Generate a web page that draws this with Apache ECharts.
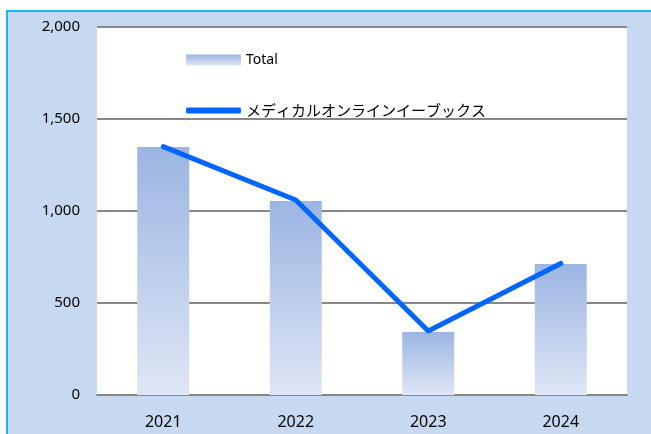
<!DOCTYPE html>
<html>
<head>
<meta charset="utf-8">
<script src="https://cdn.jsdelivr.net/npm/echarts@6/dist/echarts.min.js"></script>
<style>
  html, body { margin: 0; padding: 0; background: #fff; }
  #chart { width: 651px; height: 434px; }
</style>
</head>
<body>
<div id="chart"></div>
<script>
// 年次データ
const years = ['2021', '2022', '2023', '2024'];
const totalValues = [1348, 1054, 342, 712];
const ebookValues = [1350, 1060, 348, 715];
const lineName = 'メディカルオンラインイーブックス';

const chart = echarts.init(document.getElementById('chart'));

const barFill = {
    type: 'linear', x: 0, y: 0, x2: 0, y2: 1,
    colorStops: [
        { offset: 0, color: '#9bb5e3' },
        { offset: 1, color: '#dfe6f5' }
    ]
};

chart.setOption({
    animation: false,
    textStyle: { fontFamily: '"Noto Sans", "Noto Sans CJK JP", sans-serif' },
    graphic: [{
        type: 'rect',
        z: -10,
        shape: { x: 7, y: 11, width: 700, height: 500 },
        style: { fill: '#c6d9f1', stroke: '#1cb3ee', lineWidth: 2 }
    }],
    grid: {
        left: 97, right: 24, top: 27, bottom: 39,
        show: true, backgroundColor: '#ffffff', borderWidth: 0
    },
    legend: [{
        data: [{ name: 'Total', icon: 'rect' }],
        left: 181, top: 48,
        itemWidth: 55, itemHeight: 11, itemGap: 4,
        textStyle: { fontSize: 14, color: '#000' }
    }, {
        data: [{ name: lineName, icon: 'roundRect' }],
        left: 181, top: 98,
        itemWidth: 55, itemHeight: 6, itemGap: 4,
        textStyle: { fontSize: 15, color: '#000', fontFamily: '"Noto Sans CJK JP", sans-serif' }
    }],
    xAxis: {
        type: 'category',
        data: years,
        axisLine: { lineStyle: { color: '#888', width: 2 } },
        axisTick: { length: 6, lineStyle: { color: '#888', width: 2 } },
        axisLabel: { fontSize: 16, color: '#000', margin: 19 }
    },
    yAxis: {
        type: 'value',
        min: 0, max: 2000, interval: 500,
        axisLine: { show: false },
        axisTick: { show: false },
        splitLine: { lineStyle: { color: '#888', width: 2 } },
        axisLabel: {
            fontSize: 15, color: '#000', margin: 17,
            formatter: v => v.toLocaleString('en-US')
        }
    },
    series: [{
        name: 'Total',
        type: 'bar',
        data: totalValues,
        barWidth: 52,
        itemStyle: { color: barFill }
    }, {
        name: lineName,
        type: 'line',
        data: ebookValues,
        symbol: 'none',
        lineStyle: { color: '#0066ff', width: 5, cap: 'round', join: 'round' },
        itemStyle: { color: '#0066ff' }
    }]
});
</script>
</body>
</html>
